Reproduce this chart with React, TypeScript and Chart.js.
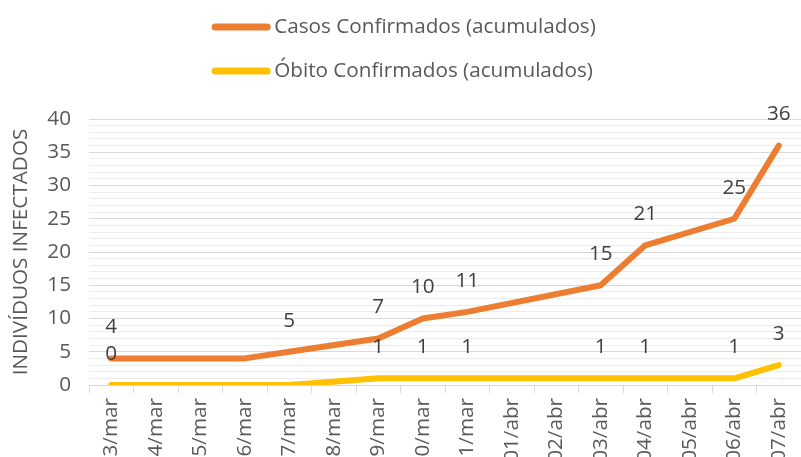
import React, { useEffect, useRef } from 'react';
import { Chart, registerables } from 'chart.js';

Chart.register(...registerables);

const categories = [
  '23/mar', '24/mar', '25/mar', '26/mar', '27/mar', '28/mar', '29/mar', '30/mar',
  '31/mar', '01/abr', '02/abr', '03/abr', '04/abr', '05/abr', '06/abr', '07/abr',
];
const casosConfirmados = [4, 4, 4, 4, 5, null, 7, 10, 11, null, null, 15, 21, null, 25, 36];
const obitosConfirmados = [0, null, null, null, 0, null, 1, 1, 1, null, null, 1, 1, null, 1, 3];
const casosLabelIdx = [0, 4, 6, 7, 8, 11, 12, 14, 15];
const obitosLabelIdx = [0, 6, 7, 8, 11, 12, 14, 15];
const seriesNames = ['Casos Confirmados (acumulados)', 'Óbito Confirmados (acumulados)'];
const seriesColors = ['#ED7D31', '#FFC000'];
const yTitle = 'INDIVÍDUOS INFECTADOS';
const yMin = 0;
const yMax = 40;
const yMajorStep = 5;

const FONT = "'Open Sans', sans-serif";
const FONT_SIZE = 20.7;
const TEXT_COLOR = '#595959';

export default function App() {
  const ref = useRef<HTMLCanvasElement>(null);

  useEffect(() => {
    if (!ref.current) return;

    const legendPlugin = {
      id: 'customLegend',
      afterDraw(chart: any) {
        const ctx = chart.ctx;
        ctx.save();
        ctx.font = `${FONT_SIZE}px ${FONT}`;
        const sample = 52;
        const gap = 7;
        let maxW = 0;
        chart.data.datasets.forEach((ds: any) => {
          maxW = Math.max(maxW, ctx.measureText(ds.label).width);
        });
        const blockW = sample + gap + maxW;
        const x0 = (chart.width - blockW) / 2 + 5;
        chart.data.datasets.forEach((ds: any, i: number) => {
          const y = 27 + i * 44;
          ctx.strokeStyle = ds.borderColor;
          ctx.lineWidth = 7;
          ctx.lineCap = 'round';
          ctx.beginPath();
          ctx.moveTo(x0, y);
          ctx.lineTo(x0 + sample, y);
          ctx.stroke();
          ctx.fillStyle = TEXT_COLOR;
          ctx.textAlign = 'left';
          ctx.textBaseline = 'middle';
          ctx.fillText(ds.label, x0 + sample + gap, y);
        });
        ctx.restore();
      },
    };

    const labelsPlugin = {
      id: 'pointLabels',
      afterDatasetsDraw(chart: any, _args: any, opts: any) {
        const ctx = chart.ctx;
        ctx.save();
        ctx.font = `${FONT_SIZE}px ${FONT}`;
        ctx.fillStyle = '#404040';
        ctx.textAlign = 'center';
        ctx.textBaseline = 'middle';
        (opts.indices || []).forEach((idxs: number[], di: number) => {
          const meta = chart.getDatasetMeta(di);
          const data = chart.data.datasets[di].data;
          idxs.forEach((j) => {
            const p = meta.data[j];
            const v = data[j];
            if (!p || v === null || v === undefined) return;
            ctx.fillText(String(v), p.x, p.y - 31);
          });
        });
        ctx.restore();
      },
    };

    const chart = new Chart(ref.current, {
      type: 'line',
      data: {
        labels: categories,
        datasets: [
          {
            label: seriesNames[0],
            data: casosConfirmados,
            borderColor: seriesColors[0],
            backgroundColor: seriesColors[0],
            borderWidth: 6,
            pointRadius: 0,
            spanGaps: true,
            tension: 0,
            borderCapStyle: 'round',
            borderJoinStyle: 'round',
          },
          {
            label: seriesNames[1],
            data: obitosConfirmados,
            borderColor: seriesColors[1],
            backgroundColor: seriesColors[1],
            borderWidth: 6,
            pointRadius: 0,
            spanGaps: true,
            tension: 0,
            borderCapStyle: 'round',
            borderJoinStyle: 'round',
          },
        ],
      },
      options: {
        responsive: false,
        animation: false,
        events: [],
        layout: { padding: { top: 119, left: 0, right: 0, bottom: 0 } },
        plugins: {
          legend: { display: false },
          tooltip: { enabled: false },
          pointLabels: { indices: [casosLabelIdx, obitosLabelIdx] },
        } as any,
        scales: {
          x: {
            offset: true,
            grid: {
              offset: true,
              drawOnChartArea: false,
              drawTicks: true,
              tickLength: 8,
              color: '#D9D9D9',
            },
            border: { color: '#D9D9D9' },
            ticks: {
              minRotation: 90,
              maxRotation: 90,
              autoSkip: false,
              padding: 5,
              color: TEXT_COLOR,
              font: { family: FONT, size: FONT_SIZE },
            },
            afterFit: (s: any) => {
              s.height = 72;
              s.paddingLeft = 0;
              s.paddingRight = 0;
            },
          },
          y: {
            min: yMin,
            max: yMax,
            ticks: {
              stepSize: 1,
              autoSkip: false,
              padding: 18,
              color: TEXT_COLOR,
              font: { family: FONT, size: FONT_SIZE },
              callback: (v: any) => (Number(v) % yMajorStep === 0 ? String(v) : ''),
            },
            grid: {
              drawTicks: false,
              color: (c: any) =>
                c.tick && Number(c.tick.value) % yMajorStep === 0 ? '#D9D9D9' : '#EDEDED',
            },
            border: { display: false },
            title: {
              display: true,
              text: yTitle,
              color: TEXT_COLOR,
              font: { family: FONT, size: FONT_SIZE },
              padding: { top: 9, bottom: 0 },
            },
            afterFit: (s: any) => {
              s.width = 89;
            },
          },
        },
      },
      plugins: [legendPlugin, labelsPlugin],
    });

    return () => chart.destroy();
  }, []);

  return (
    <div style={{ position: 'absolute', left: 0, top: 0, width: 801, height: 457, overflow: 'hidden', background: '#fff' }}>
      <canvas ref={ref} width={801} height={457} style={{ display: 'block' }} />
    </div>
  );
}
